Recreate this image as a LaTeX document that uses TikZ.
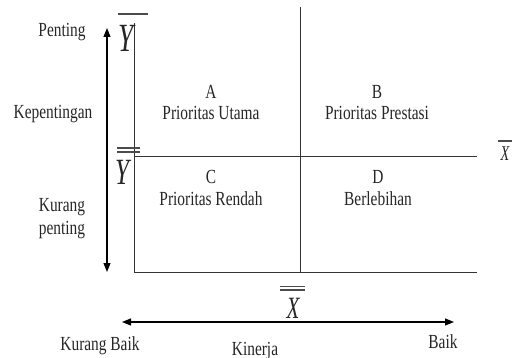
\documentclass[tikz,border=0pt]{standalone}
\usepackage{fontspec}
\setmainfont{Liberation Serif}[FakeStretch=0.77]
\newfontfamily\varfont{Liberation Serif}[FakeStretch=0.68]
\usetikzlibrary{arrows.meta}
\tikzset{
  txt/.style={inner sep=0pt, anchor=base, font=\fontsize{20}{22}\selectfont, text=black!85},
  var/.style={inner sep=0pt, anchor=base, text=black!85},
  axis/.style={line width=1pt, draw=black!80},
  bar/.style={line width=1.3pt, draw=black!70},
  dblarrow/.style={line width=1.1pt, draw=black, {Triangle[length=9pt,width=7pt]}-{Triangle[length=9pt,width=7pt]}},
}
\begin{document}
\begin{tikzpicture}[x=1pt,y=-1pt]
\useasboundingbox (0,0) rectangle (514,358);
% frame coordinates
\coordinate (lt) at (134,23);
\coordinate (lb) at (134,272);
\coordinate (rb) at (477,272);
\coordinate (mt) at (300,7);
\coordinate (mb) at (300,272);
\coordinate (hl) at (134,157);
\coordinate (hr) at (477,157);
\draw[axis] (lt) -- (lb) -- (rb);
\draw[axis] (mt) -- (mb);
\draw[axis] (hl) -- (hr);
% arrows
\coordinate (vtop) at (107,28);
\coordinate (vbot) at (107,272);
\draw[dblarrow] (vbot) -- (vtop);
\coordinate (hleft) at (122,322);
\coordinate (hright) at (454,322);
\draw[dblarrow] (hleft) -- (hright);
% left labels
\node[txt] (penting) at (62,37) {Penting};
\node[txt] (kep) at (53,119) {Kepentingan};
\node[txt] (kurang) at (62,212) {Kurang};
\node[txt] (kpenting) at (62,234) {penting};
% quadrant labels
\node[txt] (a) at (211,99) {A};
\node[txt] (au) at (211,120) {Prioritas Utama};
\node[txt] (b) at (377,99) {B};
\node[txt] (bp) at (377,120) {Prioritas Prestasi};
\node[txt] (c) at (211,184) {C};
\node[txt] (cr) at (211,206) {Prioritas Rendah};
\node[txt] (d) at (378,184) {D};
\node[txt] (db) at (378,206) {Berlebihan};
% variable symbols
\node[var, font=\varfont\itshape\fontsize{40}{40}\selectfont] (ytop) at (126,52) {Y};
\draw[bar] (118,14) -- (148,14);
\node[var, font=\varfont\itshape\fontsize{37}{37}\selectfont] (ymid) at (122,185) {Y};
\draw[bar] (117,148) -- (140,148);
\draw[bar] (117,152) -- (140,152);
\node[var, font=\varfont\itshape\fontsize{21}{21}\selectfont] (xright) at (505,161) {X};
\draw[bar] (498,141) -- (512,141);
\node[var, font=\varfont\itshape\fontsize{31}{31}\selectfont] (xbot) at (293,318) {X};
\draw[bar] (280,286.5) -- (305,286.5);
\draw[bar] (280,290) -- (305,290);
% bottom labels
\node[txt] (kb) at (100,350) {Kurang Baik};
\node[txt] (kin) at (255,355) {Kinerja};
\node[txt] (baik) at (443,348) {Baik};
\end{tikzpicture}
\end{document}
